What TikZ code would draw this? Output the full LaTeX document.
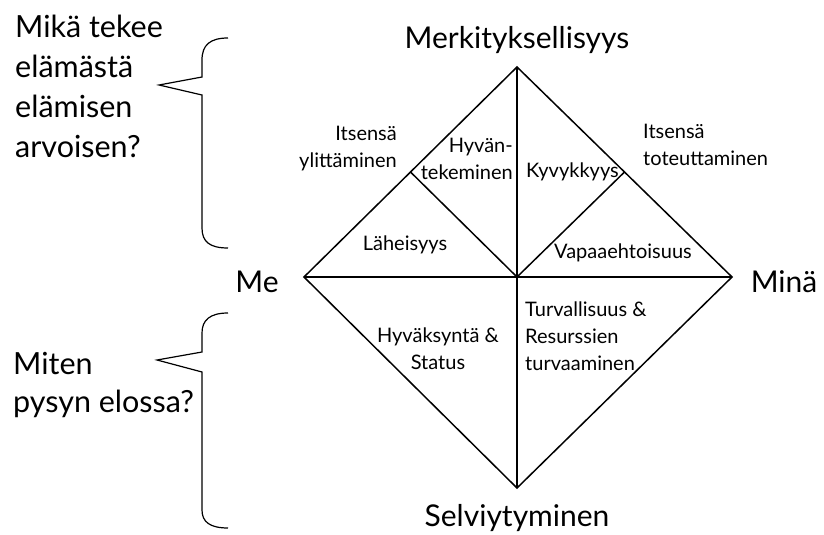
\documentclass[tikz,border=0pt]{standalone}
\usepackage{fontspec}
\setmainfont{Lato}
\usetikzlibrary{calc}
\begin{document}
\begin{tikzpicture}[x=1pt,y=-1pt,
  edge/.style={line width=1.5pt, line join=miter},
  brace/.style={line width=1.2pt, line join=miter},
  big/.style={font=\fontsize{30}{34}\selectfont, inner sep=0pt},
  side/.style={font=\fontsize{30.5}{40}\selectfont, inner sep=0pt, align=left, anchor=west},
  lbl/.style={font=\fontsize{20}{27}\selectfont, inner sep=0pt}]
\useasboundingbox (0,0) rectangle (824,535);
% diamond
\coordinate (T) at (517,67);
\coordinate (B) at (517,488);
\coordinate (L) at (304,277);
\coordinate (R) at (732,277);
\coordinate (C) at (517,277);
\coordinate (ML) at ($(L)!0.5!(T)$);
\coordinate (MR) at ($(R)!0.5!(T)$);
\draw[edge] (L) -- (T) -- (R) -- (B) -- cycle;
\draw[edge] (L) -- (R);
\draw[edge] (T) -- (B);
\draw[edge] (ML) -- (C);
\draw[edge] (MR) -- (C);
% pole labels
\node[big] (merk) at (517,40) {Merkityksellisyys};
\node[big] (selv) at (517,518) {Selviytyminen};
\node[big] (me) at (257,282) {Me};
\node[big] (mina) at (784,282) {Minä};
% inner labels
\node[lbl, align=right, anchor=east] (ylit) at (397,149) {Itsensä\\ylittäminen};
\node[lbl, align=right, anchor=east] (hyvan) at (513,159) {Hyvän-\\tekeminen};
\node[lbl, anchor=west] (kyvyk) at (526,172) {Kyvykkyys};
\node[lbl, align=left, anchor=west] (tote) at (643,145) {Itsensä\\toteuttaminen};
\node[lbl] (lahe) at (405,245) {Läheisyys};
\node[lbl] (vapa) at (623,253) {Vapaaehtoisuus};
\node[lbl, align=center] (hyvak) at (438,349) {Hyväksyntä \&\\Status};
\node[lbl, align=left, anchor=west] (turva) at (525,336) {Turvallisuus \&\\Resurssien\\turvaaminen};
% side questions
\node[side] (q1) at (15,86) {Mikä tekee\\elämästä\\elämisen\\arvoisen?};
\node[side, font=\fontsize{30.5}{38}\selectfont] (q2) at (13,385) {Miten\\pysyn elossa?};
% braces
\draw[brace] (228,38) .. controls (210,38) and (202,45) .. (202,60) -- (202,77) -- (159,85) -- (202,95) -- (202,228) .. controls (202,242) and (210,248) .. (228,248);
\draw[brace] (228,313) .. controls (210,313) and (202,320) .. (202,333) -- (202,352) -- (157,360) -- (202,372) -- (202,510) .. controls (202,522) and (210,528) .. (228,528);
\end{tikzpicture}
\end{document}
